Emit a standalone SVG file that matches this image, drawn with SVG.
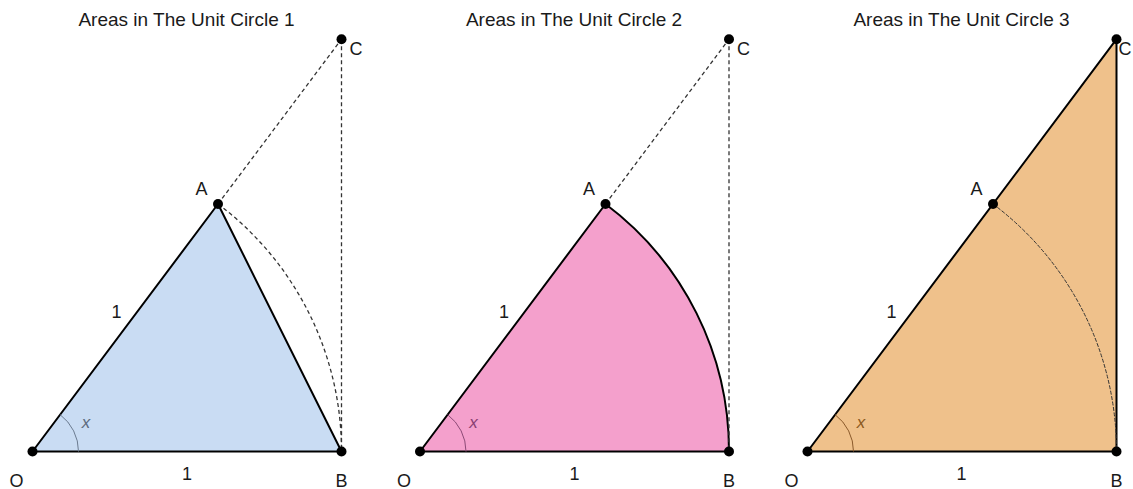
<svg xmlns="http://www.w3.org/2000/svg" width="1133" height="489" viewBox="0 0 1133 489">
<style>
.title{font-family:"Liberation Sans",Arial,sans-serif;font-size:19px;fill:#1a1a1a;text-anchor:middle}
.lbl{font-family:"Liberation Sans",Arial,sans-serif;font-size:18px;fill:#1a1a1a;text-anchor:middle}
.ang{font-family:"Liberation Sans",Arial,sans-serif;font-size:17px;font-style:italic;text-anchor:middle}
.edge{stroke:#000;stroke-width:2;stroke-linejoin:round}
.f1{fill:#c9dcf3}
.f2{fill:#f4a0cc}
.f3{fill:#efc18b}
.dash{fill:none;stroke:#333;stroke-width:1.3;stroke-dasharray:4 3}
.dashthin{fill:none;stroke:#333;stroke-width:1;stroke-dasharray:4 1.5}
.pt{fill:#000}
</style>
<rect width="1133" height="489" fill="#fff"/>
<!-- Panel 1 -->
<g id="panel1">
  <text class="title" x="186.5" y="26">Areas in The Unit Circle 1</text>
  <path class="edge f1" d="M32.5,451.5 L218,204 L341.5,451.5 Z"/>
  <g id="p1-connectors">
    <path class="dash" d="M218,204 L341.5,39.2"/>
    <path class="dash" d="M341.5,39.2 L341.5,451.5" stroke-width="1.6"/>
    <path class="dash" d="M218,204 A309,309 0 0 1 341.5,451.5"/>
    <path d="M78.5,451.5 A46,46 0 0 0 60.1,414.65" fill="none" stroke="#6b7b90" stroke-width="1"/>
  </g>
  <text class="ang" x="86" y="428" fill="#5d6b7d">x</text>
  <g id="p1-O"><circle class="pt" cx="32.5" cy="451.5" r="5"/><text class="lbl" x="16.5" y="486.5">O</text></g>
  <g id="p1-B"><circle class="pt" cx="341.5" cy="451.5" r="5"/><text class="lbl" x="341.5" y="486.5">B</text></g>
  <g id="p1-A"><circle class="pt" cx="218" cy="204" r="5"/><text class="lbl" x="201.5" y="195">A</text></g>
  <g id="p1-C"><circle class="pt" cx="341.5" cy="39.2" r="5"/><text class="lbl" x="356" y="55">C</text></g>
  <text class="lbl" x="187" y="480">1</text>
  <text class="lbl" x="116.5" y="318">1</text>
</g>
<!-- Panel 2 -->
<g id="panel2">
  <text class="title" x="574" y="26">Areas in The Unit Circle 2</text>
  <path class="edge f2" d="M420,451.5 L605.5,204 A309,309 0 0 1 729,451.5 Z"/>
  <g id="p2-connectors">
    <path class="dash" d="M605.5,204 L729,39.2"/>
    <path class="dash" d="M729,39.2 L729,451.5"/>
    <path d="M466,451.5 A46,46 0 0 0 447.6,414.65" fill="none" stroke="#8c4a76" stroke-width="1"/>
  </g>
  <text class="ang" x="473.5" y="428" fill="#8a3f72">x</text>
  <g id="p2-O"><circle class="pt" cx="420" cy="451.5" r="5"/><text class="lbl" x="404" y="486.5">O</text></g>
  <g id="p2-B"><circle class="pt" cx="729" cy="451.5" r="5"/><text class="lbl" x="729" y="486.5">B</text></g>
  <g id="p2-A"><circle class="pt" cx="605.5" cy="204" r="5"/><text class="lbl" x="589" y="195">A</text></g>
  <g id="p2-C"><circle class="pt" cx="729" cy="39.2" r="5"/><text class="lbl" x="743.5" y="55">C</text></g>
  <text class="lbl" x="574.5" y="480">1</text>
  <text class="lbl" x="504" y="318">1</text>
</g>
<!-- Panel 3 -->
<g id="panel3">
  <text class="title" x="961.5" y="26">Areas in The Unit Circle 3</text>
  <path class="edge f3" d="M807.5,451.5 L1116.5,39.2 L1116.5,451.5 Z"/>
  <g id="p3-connectors">
    <path class="dashthin" d="M993,204 A309,309 0 0 1 1116.5,451.5"/>
    <path d="M853.5,451.5 A46,46 0 0 0 835.1,414.65" fill="none" stroke="#8b5a2b" stroke-width="1"/>
  </g>
  <text class="ang" x="861" y="428" fill="#8b5a20">x</text>
  <g id="p3-O"><circle class="pt" cx="807.5" cy="451.5" r="5"/><text class="lbl" x="791.5" y="486.5">O</text></g>
  <g id="p3-B"><circle class="pt" cx="1116.5" cy="451.5" r="5"/><text class="lbl" x="1116.5" y="486.5">B</text></g>
  <g id="p3-A"><circle class="pt" cx="993" cy="204" r="5"/><text class="lbl" x="976.5" y="195">A</text></g>
  <g id="p3-C"><circle class="pt" cx="1116.5" cy="39.2" r="5"/><text class="lbl" x="1125" y="55" text-anchor="start">C</text></g>
  <text class="lbl" x="961.5" y="480">1</text>
  <text class="lbl" x="891.5" y="318">1</text>
</g>
</svg>
